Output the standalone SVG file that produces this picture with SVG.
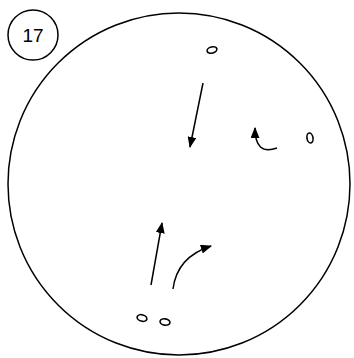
<svg xmlns="http://www.w3.org/2000/svg" width="354" height="358" viewBox="0 0 354 358">
<style>
.ln{fill:none;stroke:#000;stroke-width:1.5}
.ov{fill:none;stroke:#000;stroke-width:1.6}
.lb{font-family:"Liberation Sans",Arial,sans-serif;font-size:19px;fill:#000}
</style>
<defs>
<marker id="ah" viewBox="0 0 10 10" refX="9" refY="5" markerWidth="7.5" markerHeight="6" orient="auto" markerUnits="strokeWidth" preserveAspectRatio="none">
<path d="M0,0 L10,5 L0,10 z" fill="#000"/>
</marker>
</defs>
<rect width="354" height="358" fill="#fff"/>
<g id="field"><circle cx="179" cy="184" r="171" class="ln" stroke-width="1.2"/></g>
<g id="badge">
<circle cx="33" cy="35" r="25" class="ln" stroke-width="1.2"/>
<text x="33" y="42" text-anchor="middle" class="lb">17</text>
</g>
<g id="players">
<ellipse cx="212" cy="50" rx="5" ry="3" transform="rotate(-15 212 50)" class="ov"/>
<ellipse cx="310" cy="138" rx="3" ry="5" transform="rotate(-10 310 138)" class="ov"/>
<ellipse cx="142" cy="318" rx="5" ry="3.2" transform="rotate(15 142 318)" class="ov"/>
<ellipse cx="165" cy="322" rx="5" ry="3.2" transform="rotate(10 165 322)" class="ov"/>
</g>
<g id="connectors">
<path d="M203,83 L190,147" class="ln" marker-end="url(#ah)"/>
<path d="M277,148 Q255,156 255,128" class="ln" marker-end="url(#ah)"/>
<path d="M151,285 L162,223" class="ln" marker-end="url(#ah)"/>
<path d="M173,289 Q177,257 211,246" class="ln" marker-end="url(#ah)"/>
</g>
</svg>
